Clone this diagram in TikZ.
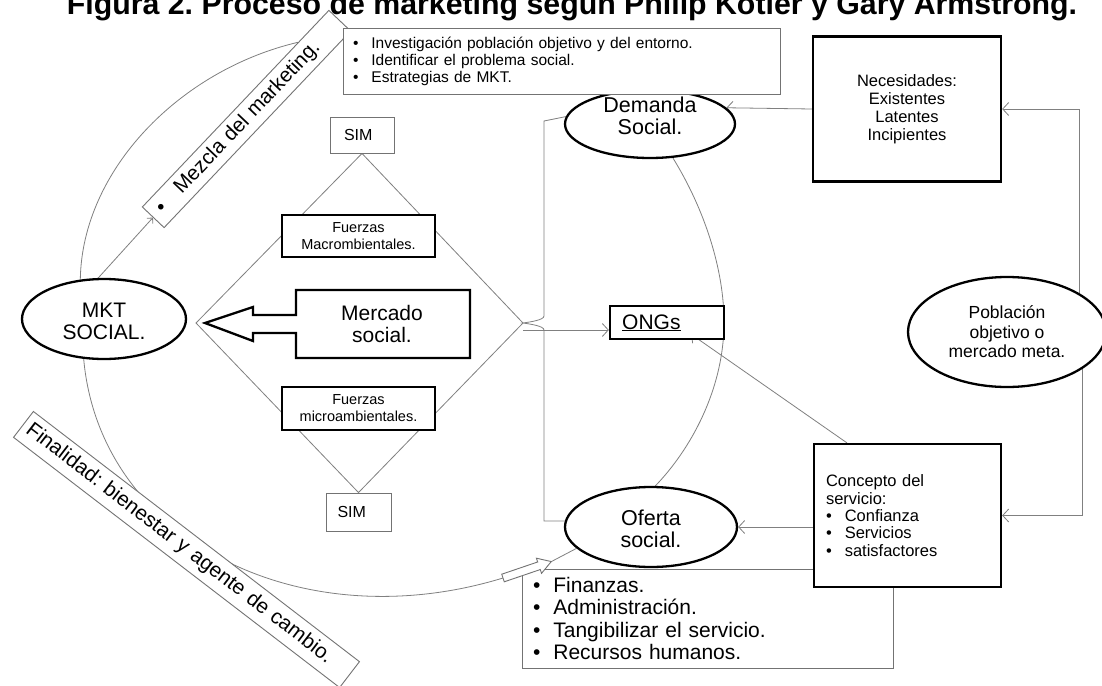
\documentclass[tikz,border=0pt]{standalone}
\usepackage{fontspec}
\setmainfont{Liberation Sans}
\usetikzlibrary{shapes.geometric,arrows.meta,calc}
\pgfdeclarelayer{paper}
\pgfdeclarelayer{wires}
\pgfsetlayers{paper,wires,main}
\frenchspacing
\newcommand\fsz[2]{\fontsize{#1}{#2}\selectfont}
\tikzset{
  wire/.style={draw=black!50, line width=0.8pt},
  arr/.style={wire, -{Straight Barb[length=6pt,width=13pt]}},
  smallarr/.style={wire, -{Straight Barb[length=4pt,width=8pt]}},
  thinbox/.style={draw=black!55, line width=0.9pt, fill=white, inner sep=0pt},
  thickbox/.style={draw=black, line width=2.3pt, fill=white, inner sep=0pt},
  oval/.style={ellipse, draw=black, line width=2.3pt, fill=white, inner sep=0pt},
  lbl/.style={inner sep=0pt, align=center},
}
\begin{document}
\begin{tikzpicture}[x=1pt, y=-1pt]
\useasboundingbox (0,0) rectangle (1102,685);
\clip (0,0) rectangle (1102,685);
\begin{pgfonlayer}{paper}
  \fill[white] (0,0) rectangle (1102,685);
\end{pgfonlayer}

% title
\node[font=\bfseries\fsz{30.3}{31}, anchor=base, inner sep=0pt] (ttl) at (572,15)
  {Figura 2. Proceso de marketing según Philip Kotler y Gary Armstrong.};

% rotated label boxes
\node[thinbox, rotate=46.5, minimum width=271pt, minimum height=30pt,
      text width=253pt, align=left, font=\fsz{20.5}{20.5}] (mez) at (246.5,119)
  {\textbullet\hspace{20pt}Mezcla del marketing.};
\node[thinbox, rotate=-37.5, minimum width=411pt, minimum height=32.6pt,
      text width=399pt, align=left, font=\fsz{20.8}{20.8}] (fnl) at (186.5,549.5)
  {Finalidad: bienestar y agente de cambio.};

% demand side
\node[oval, minimum width=170pt, minimum height=68pt] (dem) at (650,124) {};
\node[lbl, font=\fsz{21.5}{22}] (demt) at (650,116) {Demanda\\Social.};
\node[thinbox, minimum width=437pt, minimum height=66pt, text width=417pt,
      align=left, font=\fsz{15.5}{17}] (tb) at (561.5,61)
  {\textbullet\hspace{13pt}Investigación población objetivo y del entorno.\\
   \textbullet\hspace{13pt}Identificar el problema social.\\
   \textbullet\hspace{13pt}Estrategias de MKT.};
\node[thickbox, minimum width=188pt, minimum height=145pt, align=center,
      font=\fsz{16.5}{18}] (nec) at (907,109)
  {Necesidades:\\Existentes\\Latentes\\Incipientes};

% target population
\node[oval, minimum width=198pt, minimum height=110pt, align=center,
      font=\fsz{17.5}{19.5}] (pob) at (1007,332)
  {Población\\objetivo o\\mercado meta.};

% supply side
\node[thinbox, minimum width=371pt, minimum height=99pt, text width=349pt,
      align=left, font=\fsz{21}{22.3}] (fin) at (707.5,618.5)
  {\textbullet\hspace{13pt}Finanzas.\\
   \textbullet\hspace{13pt}Administración.\\
   \textbullet\hspace{13pt}Tangibilizar el servicio.\\
   \textbullet\hspace{13pt}Recursos humanos.};
\node[oval, minimum width=172pt, minimum height=80pt] (ofe) at (651,527) {};
\node[lbl, font=\fsz{21.5}{22}] (ofet) at (651,529) {Oferta\\social.};
\node[thickbox, minimum width=187pt, minimum height=143pt, text width=163pt,
      align=left, font=\fsz{16.5}{17.3}] (conc) at (907.5,515.5)
  {Concepto del\\servicio:\\
   \textbullet\hspace{13pt}Confianza\\
   \textbullet\hspace{13pt}Servicios\\
   \textbullet\hspace{13pt}satisfactores};

% ONGs
\node[thickbox, minimum width=114pt, minimum height=33pt] (ong) at (667,322.5) {};
\node[inner sep=0pt, anchor=base west, font=\fsz{21}{22}] (ongt) at (622,329) {\underline{ONGs}};

% social marketing
\node[oval, minimum width=164pt, minimum height=80pt] (mkt) at (104,319) {};
\node[lbl, font=\fsz{21}{22}] (mktt) at (104,321) {MKT\\SOCIAL.};

% social market: SIM boxes, environmental forces, diamond
\node[thinbox, minimum width=64pt, minimum height=36pt, text width=36pt,
      align=left, font=\fsz{16}{16}] (sim1) at (362,135) {SIM};
\node[thinbox, minimum width=65pt, minimum height=38pt, text width=42pt,
      align=left, font=\fsz{16}{16}] (sim2) at (358.5,512) {SIM};
\coordinate (dL) at (196,323);
\coordinate (dR) at (523,323);
\node[thickbox, minimum width=153pt, minimum height=42pt, align=center,
      font=\fsz{14.5}{17}] (fmac) at (358.5,236) {Fuerzas\\Macrombientales.};
\node[thickbox, minimum width=153pt, minimum height=43pt, align=center,
      font=\fsz{14.5}{17}] (fmic) at (358.5,408.5) {Fuerzas\\microambientales.};

% block arrow: social market -> social marketing
\draw[draw=black, line width=2.3pt, fill=white, line join=miter]
  (470,290) -- (296,290) -- (296,315) -- (253,315) -- (253,307) -- (205,323)
  -- (253,341) -- (253,333) -- (296,333) -- (296,358) -- (470,358) -- cycle;
\node[lbl, font=\fsz{21}{22}] (merc) at (382,324) {Mercado\\social.};

% small hollow arrow towards the offer
\coordinate (fintail) at (503,578);
\draw[draw=black!55, line width=0.9pt, fill=white, line join=miter,
      shift={(fintail)}, rotate=18.8]
  (0,-4) -- (38,-4) -- (38,-8) -- (51,0) -- (38,8) -- (38,4) -- (0,4) -- cycle;
\coordinate (fintip) at ($(fintail)+(48.3,-16.4)$);

\begin{pgfonlayer}{wires}
  % diamond
  \draw[wire] (sim1.south) -- (dL) -- (sim2.north) -- (dR) -- cycle;
  % brace joining demand and offer
  \draw[wire] (dem.175) -- (544,121) -- (544,316)
    .. controls (544,320) and (530,322) .. (dR)
    .. controls (530,324) and (544,326) .. (544,330) -- (544,521) -- (ofe.176);
  \coordinate (ongin) at ($(ong.west)+(0,7.5)$);
  \draw[arr] (dR |- ongin) -- (ongin);
  % arc demand -> offer behind ONGs
  \draw[wire] (dem.-56) .. controls (705,210) and (724,270) .. (724,322)
    .. controls (724,390) and (690,450) .. (ofe.84);
  % needs and service concept
  \draw[arr] (nec.west) -- (dem.12);
  \draw[arr] (pob.28) |- (nec.east);
  \draw[arr] (pob.-26) |- (conc.east);
  \draw[arr] (conc.west |- ofe.east) -- (ofe.east);
  \draw[arr] ($(conc.north west)!0.18!(conc.north east)$) -- ($(ong.south)+(24,-6)$);
  % social marketing arcs
  \draw[smallarr] (mkt.98) -- (mez.west);
  \draw[wire] (mkt.121) .. controls (82,170) and (180,70)
    .. ($(mez.north west)!0.835!(mez.north east)$);
  \draw[wire] (mkt.-117) .. controls (100,540) and (300,640) .. (fintail);
  \draw[wire] (fintip) -- (ofe.196);
\end{pgfonlayer}
\end{tikzpicture}
\end{document}
